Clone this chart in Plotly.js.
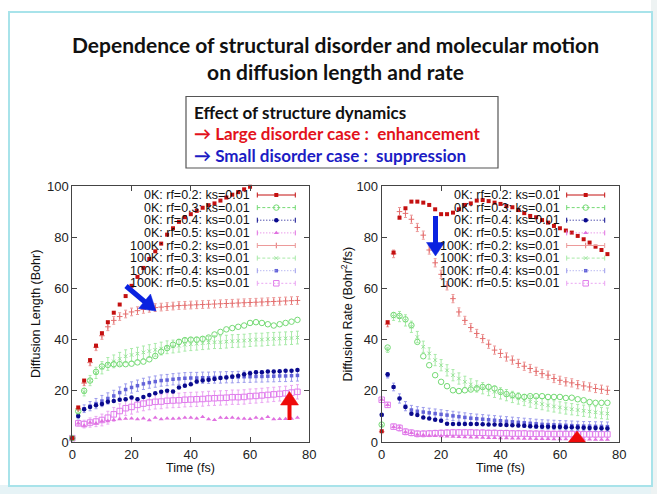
<!DOCTYPE html>
<html>
<head>
<meta charset="utf-8">
<script src="https://cdn.plot.ly/plotly-3.0.1.min.js"></script>
<style>
html,body{margin:0;padding:0;background:#ffffff;width:657px;height:494px;overflow:hidden;}
#bottomband{position:absolute;left:0;top:485px;width:657px;height:9px;background:#e6f3f6;}
#rightband{position:absolute;left:651px;top:0;width:6px;height:494px;background:#eef3f3;}
#frame{position:absolute;left:8px;top:11px;width:641px;height:472px;border:2px solid #a8e3ea;background:#ffffff;}
#chart{position:absolute;left:0;top:0;width:657px;height:494px;}
</style>
</head>
<body>
<div id="bottomband"></div>
<div id="rightband"></div>
<div id="frame"></div>
<div id="chart"></div>
<script>
// ---------------- data ----------------
const time = [0,2,4,6,8,10,12,14,16,18,20,22,24,26,28,30,32,34,36,38,40,42,44,46,48,50,52,54,56,58,60,62,64,66,68,70,72,74,76];

const seriesNames = ["0K: rf=0.2: ks=0.01","0K: rf=0.3: ks=0.01","0K: rf=0.4: ks=0.01","0K: rf=0.5: ks=0.01",
                     "100K: rf=0.2: ks=0.01","100K: rf=0.3: ks=0.01","100K: rf=0.4: ks=0.01","100K: rf=0.5: ks=0.01"];

// Left panel: Diffusion Length (Bohr)
const len_0K_rf02 = [1.5,13.5,24,32,37.6,42.5,46.8,50.5,53.7,57,61,64.5,68,71.5,74.5,77.5,81,83.5,86,87.8,89,90.3,91.5,92.5,93.2,94.3,95.5,96.6,97.6,98.7,99.7,null,null,null,null,null,null,null,null];
const len_0K_rf03 = [1.5,12,20,24,27.4,29.5,30.1,30.4,30.4,30.4,30.6,31.1,31.4,32.3,33.6,35.3,36.7,38,39.1,39.8,40,40,40.3,40.8,42,43,44,44.5,45,45.5,46.5,46.8,46.5,46,45.5,46,46.5,47,47.7];
const len_0K_rf04 = [1.5,10.2,12.8,13.7,14.4,14.8,15.7,16,16.5,16.7,17.4,16.7,17.6,18.4,19,19.6,20,19.7,21.3,22,22.6,23.6,24,24.3,24.6,25,25.2,25.6,25.9,26.5,26.9,27.2,27.2,27.5,27.5,27.6,27.8,27.8,28.1];
const len_0K_rf05 = [1.5,7.3,6.4,7.6,7.3,8.2,8.2,8.6,8.9,9.1,9.2,8.9,9.2,8.5,9.5,8.9,9.2,9.1,9.2,9.5,9.5,9.2,9.8,8.9,8.6,9.5,9.4,9.5,9.2,9.1,9,9.5,9.1,9.8,8.9,9,9,9.1,9.5];
const len_100K_rf02 = [1.5,13,23,31,37,41.5,45,47.5,49,50,50.8,51.3,51.8,52.2,52.5,52.7,52.9,53.1,53.3,53.4,53.5,53.6,53.7,53.8,53.9,54,54.1,54.2,54.3,54.4,54.5,54.6,54.7,54.8,54.9,55,55.1,55.2,55.3];
const len_100K_rf03 = [1.5,12,19.5,24,27,29,30.5,31.5,32.5,33.5,34,34.5,35,35.5,36,36.5,37,37.3,37.6,38,38.2,38.4,38.6,38.8,39,39,39.2,39.4,39.5,39.6,39.8,40,40,40.2,40.3,40.4,40.5,40.6,40.8];
const len_100K_rf04 = [1.5,10,13,14,15,16,17,18,19.3,20.5,21.3,22,22.7,23.2,23.6,24,24.2,24.5,24.7,24.9,25,25,25.1,25.1,25.2,25.2,25.3,25.3,25.4,25.5,25.5,25.6,25.6,25.7,25.7,25.8,25.8,25.9,26];
const len_100K_rf05 = [1.5,7.3,7,7.6,8,8.6,9.5,10.8,12.1,13.2,13.7,14.5,15,15.4,15.7,15.8,16.1,16.2,16.3,16.5,16.6,16.7,16.8,17,17.1,17.2,17.3,17.5,17.5,17.6,17.9,18,18.2,18.4,18.6,18.8,19,19.3,19.6];
const len_100K_rf02_err = [0,0.6,1,1.2,1.3,1.4,1.5,1.5,1.5,1.5,1.5,1.5,1.5,1.5,1.5,1.5,1.5,1.5,1.5,1.5,1.5,1.5,1.5,1.5,1.5,1.5,1.5,1.5,1.5,1.5,1.5,1.5,1.5,1.5,1.5,1.5,1.5,1.5,1.5];
const len_100K_rf03_err = [0,1,1.5,2,2.2,2.4,2.5,2.5,2.5,2.5,2.5,2.5,2.5,2.5,2.5,2.5,2.5,2.5,2.5,2.5,2.5,2.5,2.5,2.5,2.5,2.5,2.5,2.5,2.5,2.5,2.5,2.5,2.5,2.5,2.5,2.5,2.5,2.5,2.5];
const len_100K_rf04_err = [0,1,1.5,1.8,2,2.2,2.2,2.2,2.2,2.2,2.2,2.2,2.2,2.2,2.2,2.2,2.2,2.2,2.2,2.2,2.2,2.2,2.2,2.2,2.2,2.2,2.2,2.2,2.2,2.2,2.2,2.2,2.2,2.2,2.2,2.2,2.2,2.2,2.2];
const len_100K_rf05_err = [0,1,1.5,1.8,2,2.3,2.5,2.7,2.8,2.8,2.8,2.8,2.8,2.8,2.8,2.8,2.8,2.8,2.8,2.8,2.8,2.8,2.8,2.8,2.8,2.8,2.8,2.8,2.8,2.8,2.8,2.8,2.8,2.8,2.8,2.8,2.8,2.8,2.8];

// Right panel: Diffusion Rate (Bohr^2/fs)
const rate_0K_rf02 = [4.2,46.8,74,87.6,91.3,93.9,93.9,93.5,92.6,90.9,89,89,89.6,90.9,92.6,93.2,94.3,94.5,94.1,93.5,93,92.2,91.7,90.6,89.4,88.3,87.8,86.7,85.7,84.4,83.5,82.6,81.8,80.5,79.2,77.9,76.3,75,73.4];
const rate_0K_rf03 = [6.8,36.9,49.6,49.2,47.9,45.6,39.1,33.5,30,26.1,23.5,21.8,20.2,19.9,20.2,20.5,20.9,21.5,21.5,20.9,19.6,18.7,18.3,17.9,17.6,17.9,17.9,17.9,17.6,17.6,17.6,17.2,17.3,16.7,16.3,15.6,15.3,15.3,15.3];
const rate_0K_rf04 = [10.6,26.5,21.5,17,13.7,11,10.5,9.6,9.2,8.7,8.3,7.1,7,7,7,7,7,6.9,6.8,6.8,6.7,6.6,6.5,6.4,6.3,6.2,6.1,6,6,5.9,5.9,5.8,5.8,5.7,5.6,5.5,5.5,5.4,5.3];
const rate_0K_rf05 = [16.6,14.5,5.9,5.6,3.9,3.6,2.9,2.7,2.5,2.4,2.3,2.2,2.1,2,1.9,1.8,1.8,1.7,1.6,1.6,1.5,1.5,1.4,1.4,1.3,1.3,1.2,1.2,1.2,1.1,1.1,1.1,1,1,1,1,0.9,0.9,0.9];
const rate_100K_rf02 = [4,46,73.5,90,89.3,87,83.8,80.8,75,70,65.5,61,56,50.8,47.5,44.7,42.4,40.4,38.2,35.9,34.6,33.2,32,30.7,29.6,28.7,27.6,26.7,26.1,24.8,24.1,23.5,23.1,22.4,21.9,21.5,20.9,20.6,20.2];
const rate_100K_rf03 = [6.5,36,49,49,47.5,45,41,37.2,34.6,32,30,28,26.1,24.8,23.5,22.5,21.7,21,20.3,19.6,19,18.3,17.6,17,16.4,15.8,15.3,14.8,14.3,13.9,13.5,13.1,12.8,12.5,12.2,11.9,11.6,11.3,11.1];
const rate_100K_rf04 = [10.5,26,21.5,17,14,12.5,12,11.7,11.4,11.1,10.8,10.5,10.2,9.9,9.6,9.3,9.1,8.9,8.7,8.5,8.3,8.1,7.9,7.7,7.5,7.3,7.1,6.9,6.8,6.7,6.6,6.5,6.4,6.3,6.2,6.2,6.1,6.1,6];
const rate_100K_rf05 = [16.5,14.5,6,5.5,4,3.6,3.2,3.2,3.3,3.4,3.5,3.6,3.7,3.7,3.7,3.7,3.6,3.6,3.5,3.5,3.4,3.4,3.3,3.3,3.3,3.2,3.2,3.2,3.1,3.1,3.1,3.1,3.1,3,3,3,3,3,3];
const rate_100K_rf02_err = [0,1,1.5,1.6,1.6,1.6,1.6,1.6,1.6,1.6,1.6,1.6,1.6,1.6,1.6,1.6,1.6,1.6,1.6,1.6,1.6,1.6,1.6,1.6,1.6,1.6,1.6,1.6,1.6,1.6,1.6,1.6,1.6,1.6,1.6,1.6,1.6,1.6,1.6];
const rate_100K_rf03_err = [0,1,1.5,2,2.2,2.2,2.2,2.2,2.2,2.2,2.2,2.2,2.2,2.2,2.2,2.2,2.2,2.2,2.2,2.2,2.2,2.2,2.2,2.2,2.2,2.2,2.2,2.2,2.2,2.2,2.2,2.2,2.2,2.2,2.2,2.2,2.2,2.2,2.2];
const rate_100K_rf04_err = [0,1,1.5,1.8,1.8,1.8,1.8,1.8,1.8,1.8,1.8,1.8,1.8,1.8,1.8,1.8,1.8,1.8,1.8,1.8,1.8,1.8,1.8,1.8,1.8,1.8,1.8,1.8,1.8,1.8,1.8,1.8,1.8,1.8,1.8,1.8,1.8,1.8,1.8];
const rate_100K_rf05_err = [0,1,1,1.2,1.2,1.2,1.2,1.2,1.2,1.2,1.2,1.2,1.2,1.2,1.2,1.2,1.2,1.2,1.2,1.2,1.2,1.2,1.2,1.2,1.2,1.2,1.2,1.2,1.2,1.2,1.2,1.2,1.2,1.2,1.2,1.2,1.2,1.2,1.2];

// ---------------- styles ----------------
const styles = [
  {color:'#c41010', ecol:'#c41010', symbol:'square', size:4, lw:0, dash:'solid'},
  {color:'#74da74', ecol:'#74da74', symbol:'circle-open', size:5.5, lw:1, dash:'3px,2px'},
  {color:'#0a0a8e', ecol:'#0a0a8e', symbol:'circle', size:4.5, lw:0, dash:'1px,2px'},
  {color:'#e070e0', ecol:'#e070e0', symbol:'triangle-up', size:4.5, lw:0, dash:'1px,2px'},
  {color:'#e46e6e', ecol:'#ec9a9a', symbol:'cross-thin-open', size:4, lw:1, dash:'solid'},
  {color:'#96e296', ecol:'#a8eaa8', symbol:'x-thin-open', size:3.5, lw:1, dash:'3px,2px'},
  {color:'#6464d8', ecol:'#9c9cec', symbol:'square', size:3.5, lw:0, dash:'1px,2px'},
  {color:'#e07cec', ecol:'#eaa6f2', symbol:'square-open', size:5.5, lw:1, dash:'2px,2px'}
];

const leftY = [len_0K_rf02,len_0K_rf03,len_0K_rf04,len_0K_rf05,len_100K_rf02,len_100K_rf03,len_100K_rf04,len_100K_rf05];
const leftErr = [null,null,null,null,len_100K_rf02_err,len_100K_rf03_err,len_100K_rf04_err,len_100K_rf05_err];
const rightY = [rate_0K_rf02,rate_0K_rf03,rate_0K_rf04,rate_0K_rf05,rate_100K_rf02,rate_100K_rf03,rate_100K_rf04,rate_100K_rf05];
const rightErr = [null,null,null,null,rate_100K_rf02_err,rate_100K_rf03_err,rate_100K_rf04_err,rate_100K_rf05_err];

const traces = [];
const drawOrder = [7,6,5,4,3,2,1,0];
function addPanel(ys, errs, xa, ya){
  drawOrder.forEach(function(i){
    const s = styles[i];
    const tr = {
      type:'scatter', mode:'markers', x:time, y:ys[i], xaxis:xa, yaxis:ya,
      name:seriesNames[i], showlegend:false, cliponaxis:false, hoverinfo:'skip',
      marker:{symbol:s.symbol, size:s.size, color:s.color, line:{color:s.color, width:s.lw}}
    };
    if (errs[i]) {
      tr.error_y = {type:'data', array:errs[i], visible:true, color:s.ecol, thickness:1, width:1.5};
    }
    traces.push(tr);
  });
}
addPanel(leftY, leftErr, 'x', 'y');
addPanel(rightY, rightErr, 'x2', 'y2');

// ---------------- layout helpers (pixel overlay axes x3/y3) ----------------
const W = 657, H = 494;
const panels = [{x0:72.3}, {x0:381.7}];
const rowY = [195,207.6,220.2,232.9,245.5,258.1,270.7,283.3];
const shapes = [];
const annotations = [];

panels.forEach(function(p){
  styles.forEach(function(s, i){
    const y = rowY[i];
    const xa = p.x0 + 185, xb = p.x0 + 223;
    shapes.push({type:'line', xref:'x3', yref:'y3', x0:xa, x1:xb, y0:y, y1:y, line:{color:s.ecol, width:1, dash:s.dash}});
    shapes.push({type:'line', xref:'x3', yref:'y3', x0:xa, x1:xa, y0:y-2.5, y1:y+2.5, line:{color:s.ecol, width:1}});
    shapes.push({type:'line', xref:'x3', yref:'y3', x0:xb, x1:xb, y0:y-2.5, y1:y+2.5, line:{color:s.ecol, width:1}});
    annotations.push({xref:'x3', yref:'y3', x:p.x0 + 180, y:y, xanchor:'right', yanchor:'middle', showarrow:false,
      text:seriesNames[i], font:{family:'Liberation Sans, Arial, sans-serif', size:12.5, color:'#111'}});
  });
});
styles.forEach(function(s, i){
  traces.push({type:'scatter', mode:'markers', xaxis:'x3', yaxis:'y3', showlegend:false, hoverinfo:'skip', cliponaxis:false,
    x:[panels[0].x0 + 204, panels[1].x0 + 204], y:[rowY[i], rowY[i]],
    marker:{symbol:s.symbol, size:s.size, color:s.color, line:{color:s.color, width:s.lw}}});
});

// arrows (decorations)
function tri(a,b,c,col){
  return {type:'path', xref:'x3', yref:'y3', path:'M'+a[0]+','+a[1]+' L'+b[0]+','+b[1]+' L'+c[0]+','+c[1]+' Z', fillcolor:col, line:{color:col, width:0.5}};
}
const blue = '#0a22e0', red = '#ee0a0a';
shapes.push({type:'line', xref:'x3', yref:'y3', x0:126, y0:286, x1:145, y1:302, line:{color:blue, width:5}});
shapes.push(tri([156,311],[138.5,308.5],[150.5,294],blue));
shapes.push({type:'line', xref:'x3', yref:'y3', x0:289.5, y0:420, x1:289.5, y1:403, line:{color:red, width:4}});
shapes.push(tri([289.5,391.5],[280.5,405],[298.5,405],red));
shapes.push({type:'line', xref:'x3', yref:'y3', x0:435.5, y0:216, x1:435.5, y1:244, line:{color:blue, width:5}});
shapes.push(tri([435.5,256],[426.5,242.5],[444.5,242.5],blue));
shapes.push(tri([577,431],[568.5,442],[585.5,442],red));

// text box
shapes.push({type:'rect', xref:'x3', yref:'y3', x0:186, y0:96.5, x1:498, y1:168, line:{color:'#555', width:1.2}, fillcolor:'rgba(0,0,0,0)'});
const boxFont = 'Lato, "Open Sans", sans-serif';
annotations.push({xref:'x3', yref:'y3', x:192, y:112, xanchor:'left', yanchor:'middle', showarrow:false,
  text:'<b>Effect of structure dynamics</b>', font:{family:boxFont, size:17, color:'#111'}});
annotations.push({xref:'x3', yref:'y3', x:192, y:133.5, xanchor:'left', yanchor:'middle', showarrow:false,
  text:'<b>\u2192 Large disorder case :\u00a0 enhancement</b>', font:{family:boxFont, size:17, color:'#e3121c'}});
annotations.push({xref:'x3', yref:'y3', x:192, y:155, xanchor:'left', yanchor:'middle', showarrow:false,
  text:'<b>\u2192 Small disorder case :\u00a0 suppression</b>', font:{family:boxFont, size:17, color:'#1c1cc4'}});

// title
annotations.push({xref:'x3', yref:'y3', x:335, y:58, xanchor:'center', yanchor:'middle', showarrow:false,
  text:'<b>Dependence of structural disorder and molecular motion</b><br><b>on diffusion length and rate</b>',
  font:{family:boxFont, size:21, color:'#111'}});

// axis titles
const axFont = {family:'Liberation Sans, Arial, sans-serif', size:12.5, color:'#111'};
annotations.push({xref:'x3', yref:'y3', x:190.8, y:468, xanchor:'center', yanchor:'middle', showarrow:false, text:'Time (fs)', font:axFont});
annotations.push({xref:'x3', yref:'y3', x:500.5, y:468, xanchor:'center', yanchor:'middle', showarrow:false, text:'Time (fs)', font:axFont});
annotations.push({xref:'x3', yref:'y3', x:36, y:314, xanchor:'center', yanchor:'middle', showarrow:false, textangle:-90, text:'Diffusion Length (Bohr)', font:axFont});
annotations.push({xref:'x3', yref:'y3', x:346.5, y:314, xanchor:'center', yanchor:'middle', showarrow:false, textangle:-90, text:'Diffusion Rate (Bohr<sup>2</sup>/fs)', font:axFont});

function xAxis(dom, anchor){
  return {domain:dom, anchor:anchor, range:[0,80], dtick:20, tick0:0, ticks:'inside', ticklen:5, tickcolor:'#444', tickwidth:1,
    showline:true, linecolor:'#444', linewidth:1, mirror:'ticks', showgrid:false, zeroline:false, fixedrange:true,
    tickfont:{family:'Liberation Sans, Arial, sans-serif', size:13, color:'#222'}};
}
function yAxis(anchor){
  return {domain:[1-442/H, 1-186/H], anchor:anchor, range:[0,100], dtick:20, tick0:0, ticks:'inside', ticklen:5, tickcolor:'#444', tickwidth:1,
    showline:true, linecolor:'#444', linewidth:1, mirror:'ticks', showgrid:false, zeroline:false, fixedrange:true,
    tickfont:{family:'Liberation Sans, Arial, sans-serif', size:13, color:'#222'}};
}

const layout = {
  width:W, height:H, margin:{l:0,r:0,t:0,b:0}, showlegend:false,
  paper_bgcolor:'rgba(0,0,0,0)', plot_bgcolor:'rgba(0,0,0,0)',
  xaxis: xAxis([72.3/W, 309.3/W], 'y'),
  yaxis: yAxis('x'),
  xaxis2: xAxis([381.7/W, 619.3/W], 'y2'),
  yaxis2: yAxis('x2'),
  xaxis3: {domain:[0,1], anchor:'y3', range:[0,W], visible:false, fixedrange:true},
  yaxis3: {domain:[0,1], anchor:'x3', range:[H,0], visible:false, fixedrange:true},
  shapes:shapes, annotations:annotations, hovermode:false
};
Plotly.newPlot('chart', traces, layout, {staticPlot:true, displayModeBar:false});
</script>
</body>
</html>
